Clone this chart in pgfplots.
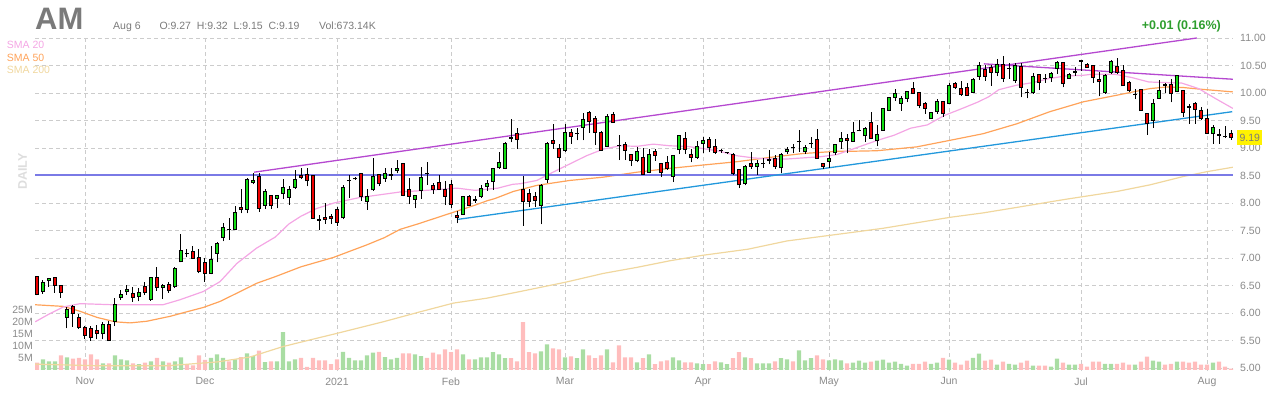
\documentclass[border=0pt]{standalone}
\usepackage{fontspec}
\setmainfont{Liberation Sans}
\usepackage{pgfplots}
\usepackage{pgfplotstable}
\pgfplotsset{compat=1.18}
\definecolor{gridgray}{HTML}{CCCCCC}
\definecolor{lblgray}{HTML}{8A8A8A}
\definecolor{hdrgray}{HTML}{7A7A7A}
\definecolor{upfill}{HTML}{11DD11}
\definecolor{dnfill}{HTML}{EE0000}
\definecolor{volup}{HTML}{A9DDA3}
\definecolor{voldn}{HTML}{FFBDBD}
\definecolor{smaA}{HTML}{F4A6E4}
\definecolor{smaB}{HTML}{FFA35A}
\definecolor{smaC}{HTML}{F0D79E}
\definecolor{purp}{HTML}{B548D0}
\definecolor{tlblue}{HTML}{2298DC}
\definecolor{levelblue}{RGB}{122,122,230}
\definecolor{chgreen}{HTML}{2E9E2E}
\definecolor{dailygray}{HTML}{DDDDDD}

\pgfplotstableread{
i o h l c
0 6.66 6.68 6.32 6.34
1 6.39 6.60 6.35 6.55
2 6.59 6.63 6.48 6.62
3 6.64 6.65 6.37 6.50
4 6.50 6.50 6.28 6.37
5 5.92 6.10 5.72 6.06
6 6.11 6.15 5.75 5.99
7 5.92 5.98 5.71 5.74
8 5.73 5.76 5.53 5.60
9 5.72 5.76 5.50 5.56
10 5.69 5.79 5.52 5.63
11 5.62 5.83 5.52 5.80
12 5.80 5.85 5.49 5.50
13 5.85 6.27 5.76 6.15
14 6.28 6.42 6.24 6.34
15 6.39 6.51 6.33 6.42
16 6.36 6.48 6.20 6.28
17 6.30 6.45 6.21 6.37
18 6.48 6.57 6.33 6.37
19 6.25 6.66 6.22 6.64
20 6.65 6.84 6.40 6.46
21 6.46 6.52 6.26 6.50
22 6.52 6.57 6.37 6.40
23 6.48 6.84 6.45 6.81
24 6.93 7.44 6.92 7.13
25 7.08 7.17 7.01 7.09
26 7.11 7.22 6.98 6.99
27 7.00 7.17 6.72 6.75
28 6.91 7.00 6.57 6.72
29 6.72 7.22 6.70 6.97
30 7.09 7.29 6.92 7.27
31 7.37 7.64 7.30 7.56
32 7.51 7.72 7.33 7.52
33 7.51 7.95 7.50 7.83
34 7.92 8.26 7.81 7.89
35 7.89 8.46 7.81 8.42
36 8.37 8.55 8.34 8.40
37 8.49 8.55 7.84 7.90
38 7.96 8.25 7.89 8.21
39 8.13 8.14 7.89 7.96
40 8.08 8.15 7.90 8.14
41 8.17 8.44 8.08 8.28
42 8.10 8.30 7.97 8.25
43 8.29 8.60 8.26 8.43
44 8.50 8.63 8.43 8.46
45 8.51 8.64 8.30 8.40
46 8.50 8.50 7.71 7.72
47 7.70 7.79 7.50 7.69
48 7.74 8.00 7.62 7.70
49 7.76 7.80 7.62 7.72
50 7.89 7.93 7.59 7.65
51 7.73 8.33 7.70 8.29
52 8.40 8.50 8.09 8.41
53 8.44 8.48 8.42 8.45
54 8.54 8.55 8.04 8.11
55 8.03 8.26 7.88 8.12
56 8.24 8.81 8.22 8.48
57 8.52 8.53 8.30 8.36
58 8.45 8.64 8.39 8.54
59 8.50 8.63 8.42 8.51
60 8.59 8.78 8.54 8.63
61 8.72 8.73 8.12 8.14
62 8.25 8.46 7.98 8.12
63 8.07 8.15 7.90 8.14
64 8.23 8.66 8.08 8.46
65 8.53 8.75 8.33 8.54
66 8.32 8.36 8.17 8.25
67 8.37 8.51 8.24 8.25
68 8.24 8.40 7.96 8.12
69 8.34 8.42 7.91 7.97
70 7.78 7.86 7.63 7.73
71 7.79 8.13 7.78 8.12
72 8.12 8.14 7.94 7.96
73 8.05 8.12 8.00 8.06
74 8.12 8.33 8.09 8.27
75 8.30 8.42 8.22 8.35
76 8.39 8.63 8.24 8.62
77 8.64 8.93 8.62 8.73
78 8.63 9.11 8.61 9.08
79 9.18 9.52 9.10 9.19
80 9.26 9.37 8.98 9.15
81 8.24 8.49 7.59 8.02
82 8.18 8.25 7.93 8.03
83 8.11 8.20 7.93 8.05
84 7.95 8.35 7.61 8.31
85 8.43 9.11 8.37 9.08
86 9.14 9.44 8.99 9.08
87 8.99 9.07 8.57 8.83
88 8.95 9.44 8.93 9.28
89 9.28 9.35 9.08 9.21
90 9.26 9.37 9.14 9.27
91 9.37 9.63 9.14 9.51
92 9.64 9.68 9.28 9.48
93 9.53 9.58 9.05 9.28
94 9.29 9.31 8.96 8.96
95 9.03 9.61 9.02 9.57
96 9.61 9.65 9.46 9.46
97 9.04 9.23 8.78 9.05
98 9.07 9.10 8.78 8.96
99 8.89 8.89 8.67 8.77
100 8.77 9.01 8.74 8.94
101 8.82 9.00 8.52 8.52
102 8.56 8.99 8.54 8.89
103 8.94 8.99 8.77 8.86
104 8.71 8.71 8.47 8.56
105 8.74 8.86 8.60 8.62
106 8.49 8.87 8.38 8.87
107 8.97 9.23 8.89 9.23
108 9.18 9.29 8.89 8.97
109 8.89 8.98 8.74 8.83
110 8.83 9.13 8.80 9.03
111 9.08 9.20 8.91 9.13
112 9.16 9.20 8.92 9.01
113 9.03 9.16 8.89 8.92
114 8.95 8.99 8.91 8.96
115 8.92 8.93 8.89 8.92
116 8.88 8.91 8.50 8.54
117 8.60 8.60 8.27 8.33
118 8.35 8.69 8.32 8.67
119 8.72 8.93 8.62 8.67
120 8.66 8.78 8.51 8.72
121 8.71 8.81 8.64 8.72
122 8.78 8.96 8.70 8.79
123 8.81 8.88 8.62 8.66
124 8.64 8.90 8.54 8.88
125 8.93 9.01 8.89 8.97
126 9.00 9.08 8.90 9.01
127 9.11 9.32 8.93 9.12
128 8.93 9.05 8.89 9.00
129 9.08 9.20 9.00 9.09
130 9.15 9.35 8.80 8.81
131 8.72 8.73 8.61 8.66
132 8.75 8.93 8.64 8.80
133 8.91 9.06 8.88 9.06
134 9.11 9.29 8.99 9.18
135 9.18 9.25 8.90 9.14
136 9.12 9.47 9.11 9.29
137 9.31 9.50 9.30 9.32
138 9.22 9.39 9.11 9.35
139 9.47 9.66 9.17 9.18
140 9.14 9.41 9.03 9.24
141 9.32 9.71 9.32 9.71
142 9.69 9.92 9.68 9.92
143 9.92 10.07 9.85 9.99
144 9.81 9.95 9.68 9.90
145 9.90 10.04 9.83 10.02
146 10.08 10.20 10.02 9.99
147 10.01 10.02 9.72 9.77
148 9.80 9.83 9.62 9.72
149 9.53 9.66 9.53 9.65
150 9.66 9.89 9.62 9.85
151 9.85 9.86 9.57 9.62
152 9.81 10.19 9.80 10.14
153 10.18 10.20 10.07 10.10
154 10.08 10.22 9.95 9.97
155 10.10 10.19 9.95 9.96
156 10.01 10.28 10.01 10.25
157 10.30 10.56 10.24 10.50
158 10.42 10.51 10.22 10.30
159 10.46 10.51 10.13 10.38
160 10.37 10.62 10.30 10.51
161 10.52 10.68 10.20 10.26
162 10.44 10.54 10.26 10.45
163 10.22 10.54 10.19 10.50
164 10.48 10.54 9.92 10.10
165 10.00 10.07 9.90 10.01
166 10.00 10.36 9.99 10.30
167 10.33 10.34 10.06 10.19
168 10.26 10.34 10.19 10.27
169 10.28 10.38 10.20 10.35
170 10.44 10.58 10.35 10.55
171 10.55 10.56 10.10 10.17
172 10.26 10.37 10.25 10.34
173 10.38 10.48 10.31 10.39
174 10.58 10.58 10.40 10.59
175 10.52 10.55 10.46 10.46
176 10.50 10.50 10.19 10.28
177 10.25 10.38 9.94 10.20
178 10.00 10.34 9.99 10.31
179 10.38 10.60 10.35 10.57
180 10.48 10.64 10.35 10.38
181 10.40 10.50 10.13 10.13
182 10.19 10.22 10.02 10.04
183 9.97 10.08 9.89 9.98
184 10.07 10.08 9.68 9.68
185 9.62 9.62 9.24 9.44
186 9.50 9.89 9.37 9.81
187 9.90 10.23 9.89 10.05
188 10.14 10.19 10.00 10.15
189 10.16 10.26 9.83 9.99
190 10.02 10.32 10.01 10.32
191 10.04 10.04 9.56 9.65
192 9.74 9.80 9.44 9.75
193 9.81 9.83 9.44 9.70
194 9.69 9.74 9.50 9.53
195 9.53 9.71 9.25 9.27
196 9.26 9.42 9.08 9.37
197 9.23 9.35 9.08 9.24
198 9.20 9.40 9.18 9.21
199 9.27 9.32 9.15 9.19
}\ohlc

\pgfplotstableread{
i v g
0 3.1 0
1 4.4 1
2 3.6 1
3 3.6 1
4 6.1 0
5 5.3 1
6 4.7 0
7 5.0 0
8 4.4 0
9 6.5 0
10 4.4 0
11 2.8 1
12 2.8 0
13 6.1 1
14 4.4 1
15 4.0 1
16 2.8 0
17 2.4 1
18 3.1 0
19 3.6 1
20 5.0 0
21 3.6 1
22 3.1 0
23 3.6 1
24 5.3 1
25 2.4 0
26 1.9 0
27 6.1 0
28 4.2 0
29 5.0 1
30 6.5 1
31 5.0 1
32 3.6 0
33 4.4 1
34 5.4 0
35 6.9 1
36 5.8 1
37 8.1 0
38 3.3 1
39 3.6 0
40 3.6 1
41 15.8 1
42 3.6 1
43 4.4 1
44 5.0 0
45 1.3 0
46 5.0 0
47 4.0 0
48 4.0 0
49 2.4 0
50 4.4 0
51 7.5 1
52 5.0 1
53 4.0 1
54 4.0 1
55 6.1 1
56 7.2 1
57 7.5 0
58 5.4 1
59 4.4 1
60 5.0 1
61 6.9 0
62 6.9 0
63 6.5 1
64 5.8 1
65 5.0 0
66 7.2 0
67 6.5 0
68 8.6 0
69 7.4 0
70 8.6 0
71 6.5 1
72 4.4 0
73 4.4 1
74 5.3 1
75 5.3 1
76 7.4 1
77 6.5 1
78 4.9 1
79 4.9 0
80 3.6 0
81 19.9 0
82 7.4 0
83 6.9 0
84 7.8 1
85 10.7 1
86 9.0 0
87 8.6 0
88 5.3 1
89 5.7 0
90 4.9 1
91 8.6 1
92 6.1 0
93 4.9 0
94 6.1 0
95 8.6 1
96 3.2 0
97 10.3 0
98 5.3 0
99 5.3 0
100 3.2 1
101 4.9 0
102 6.5 1
103 2.4 0
104 3.6 0
105 4.0 0
106 5.3 1
107 4.0 1
108 3.2 0
109 3.2 0
110 2.8 1
111 2.4 1
112 2.4 0
113 3.6 0
114 3.2 1
115 2.4 1
116 4.9 0
117 7.4 0
118 5.3 1
119 4.9 0
120 2.8 1
121 2.8 1
122 2.8 1
123 3.6 0
124 4.9 1
125 4.4 1
126 3.6 0
127 8.2 1
128 4.0 1
129 4.9 1
130 6.1 0
131 4.4 0
132 4.0 1
133 4.4 1
134 4.0 1
135 2.8 0
136 3.1 1
137 3.9 1
138 3.1 1
139 3.5 0
140 3.9 1
141 4.3 1
142 3.1 1
143 3.5 1
144 2.6 1
145 1.8 1
146 2.6 0
147 2.6 0
148 3.5 0
149 2.6 1
150 3.1 1
151 5.1 0
152 4.3 1
153 3.1 0
154 2.2 0
155 3.9 0
156 5.1 1
157 6.8 1
158 3.9 0
159 4.3 0
160 2.2 1
161 3.5 0
162 2.6 1
163 2.2 1
164 3.1 0
165 3.9 0
166 1.8 1
167 1.8 0
168 1.8 0
169 1.4 1
170 4.7 1
171 3.1 0
172 2.2 1
173 2.2 1
174 2.6 0
175 1.4 0
176 3.5 0
177 3.5 0
178 2.6 1
179 2.6 1
180 2.6 0
181 3.1 0
182 2.2 0
183 2.2 1
184 3.5 0
185 5.6 0
186 3.9 1
187 3.5 1
188 2.2 0
189 2.6 0
190 3.5 1
191 3.5 0
192 3.1 0
193 3.5 0
194 2.2 0
195 2.2 0
196 3.1 1
197 3.5 0
198 1.4 0
199 0.6 0
}\vol

\begin{document}
\begin{tikzpicture}
\path[use as bounding box] (0,0) rectangle (1280bp,400bp);
\pgfplotsset{base/.style={at={(35bp,29bp)}, anchor=south west, scale only axis,
  width=1198bp, height=334bp, xmin=-0.333, xmax=199.333,
  axis line style={draw=none}, major tick length=0pt,
  tick label style={font=\fontsize{10.5bp}{12bp}\selectfont, text=lblgray},
  /pgf/number format/assume math mode=true}}

% axis 1: grid and labels
\begin{axis}[base, ymin=4.9455, ymax=11.018,
  xtick={8,28,50,69,88,111,132,152,174,195},
  xticklabels={Nov,Dec,2021,Feb,Mar,Apr,May,Jun,Jul,Aug},
  ytick={5,5.5,6,6.5,7,7.5,8,8.5,9,9.5,10,10.5,11},
  yticklabel pos=right,
  y tick label style={/pgf/number format/fixed, /pgf/number format/fixed zerofill, /pgf/number format/precision=2},
  yticklabel style={anchor=west, inner sep=0pt, xshift=7bp},
  xticklabel style={anchor=north, inner sep=0pt, yshift=-6.5bp},
  grid=major, major grid style={draw=gridgray, dash pattern=on 4bp off 3bp, line width=0.8bp}]
\addplot[draw=none, forget plot] coordinates {(0,5)};
\end{axis}

% axis 2: volume
\begin{axis}[base, ymin=-0.42, ymax=138.75, xtick=\empty,
  ytick={5,10,15,20,25}, yticklabels={5M,10M,15M,20M,25M},
  yticklabel pos=left, yticklabel style={anchor=east, inner sep=0pt, xshift=-2bp}]
\addplot[ybar, bar width=4.4bp, bar shift=0pt, fill=volup, draw=none,
  restrict expr to domain={\thisrow{g}}{0.5:1.5}] table[x=i, y=v] {\vol};
\addplot[ybar, bar width=4.4bp, bar shift=0pt, fill=voldn, draw=none,
  restrict expr to domain={\thisrow{g}}{-0.5:0.5}] table[x=i, y=v] {\vol};
\end{axis}

% axis 3: price content
\begin{axis}[base, ymin=4.9455, ymax=11.018, xtick=\empty, ytick=\empty, clip mode=individual]
\addplot[smaC, line width=1.2bp, line join=round] coordinates {
(-0.3,5.07) (10.5,5.04) (21.6,5.04) (30,5.11) (35.5,5.20) (41,5.39) (46.6,5.54) (50,5.63) (57.7,5.84) (63.8,6.02) (69.4,6.18) (75,6.27) (80.5,6.39) (88.1,6.56) (94.4,6.72) (100,6.83) (105.5,6.95) (111,7.05) (118.5,7.16) (125,7.31) (135.5,7.46) (141,7.54) (146.6,7.64) (152.2,7.74) (157.7,7.82) (163.3,7.92) (168.8,8.02) (171.6,8.07) (180,8.21) (185.5,8.33) (191,8.48) (195,8.57) (199.3,8.65)};
\addplot[smaB, line width=1.2bp, line join=round] coordinates {
(-0.3,6.15) (4.4,6.12) (7.2,6.03) (10,5.92) (13,5.84) (15.5,5.82) (18.3,5.85) (22.2,5.94) (24.9,6.02) (27.7,6.10) (30.5,6.21) (33.3,6.36) (36.6,6.54) (39.7,6.66) (44,6.84) (49.4,7.01) (55,7.24) (57.9,7.37) (60.5,7.52) (63.5,7.62) (67.4,7.76) (70.2,7.86) (73,7.96) (75,8.04) (76.3,8.08) (79.4,8.21) (83.3,8.32) (88.8,8.41) (94.4,8.47) (100,8.56) (105.5,8.63) (111,8.69) (116.6,8.75) (122.2,8.83) (127.7,8.90) (133.3,8.94) (135.5,8.94) (140,8.95) (146.6,9.02) (152.2,9.14) (157.7,9.26) (163.3,9.44) (168.8,9.66) (174.4,9.84) (180,9.96) (182.7,10.02) (185.5,10.08) (188.3,10.11) (191,10.10) (193.8,10.07) (199.3,10.02)};
\addplot[smaA, line width=1.2bp, line join=round] coordinates {
(-0.3,5.84) (2,5.98) (4.4,6.11) (7.2,6.17) (12.7,6.15) (21,6.15) (23.8,6.24) (27.7,6.39) (30.5,6.57) (33.3,6.90) (36.6,7.18) (39.7,7.38) (42,7.62) (44,7.76) (46.6,7.90) (49.5,8.0) (53.8,8.10) (55.2,8.12) (60.5,8.20) (66.3,8.24) (70,8.27) (73,8.23) (76.8,8.27) (79.3,8.34) (80.5,8.35) (83.3,8.41) (86,8.56) (88.8,8.71) (91.6,8.86) (94.4,8.98) (97.2,9.04) (100,9.03) (102.7,9.07) (105.5,9.04) (108.3,9.03) (111,8.99) (113.8,8.94) (116.6,8.86) (119.4,8.82) (122.2,8.80) (125,8.80) (127.7,8.82) (130.5,8.84) (133.3,8.88) (136.2,8.99) (140.1,9.14) (142.8,9.23) (145.6,9.36) (148.4,9.42) (151.2,9.59) (154,9.71) (156.7,9.83) (158.6,9.93) (160.3,10.06) (163.2,10.14) (166,10.19) (168.6,10.26) (171.4,10.31) (174.2,10.32) (175.8,10.34) (179.7,10.34) (182.5,10.28) (185.3,10.20) (188,10.19) (190.8,10.18) (193.6,10.08) (196.4,9.90) (199.3,9.72)};
\addplot[draw=levelblue, line width=2bp, solid] coordinates {(-0.333,8.5) (199.333,8.5)};
\addplot[purp, line width=1.3bp] coordinates {(36.2,8.56) (193.3,11.0)};
\addplot[purp, line width=1.3bp] coordinates {(157.8,10.53) (199.3,10.25)};
\addplot[tlblue, line width=1.3bp] coordinates {(70,7.70) (199.2,9.66)};
% wicks
\addplot[draw=none, mark=none, error bars/.cd, y dir=plus, y explicit, error mark=none,
  error bar style={draw=black, line width=1bp}]
  table[x=i, y=l, y error plus expr={\thisrow{h}-\thisrow{l}}] {\ohlc};
% body outlines
\addplot[draw=none, mark=none, error bars/.cd, y dir=plus, y explicit, error mark=none,
  error bar style={draw=black, line width=4.6bp}]
  table[x=i, y expr={min(\thisrow{o},\thisrow{c})-0.0091}, y error plus expr={abs(\thisrow{c}-\thisrow{o})+0.0182}] {\ohlc};
% up fills
\addplot[draw=none, mark=none, restrict expr to domain={\thisrow{c}-\thisrow{o}}{0:100},
  error bars/.cd, y dir=plus, y explicit, error mark=none,
  error bar style={draw=upfill, line width=2.6bp}]
  table[x=i, y expr={\thisrow{o}+0.0091}, y error plus expr={max(\thisrow{c}-\thisrow{o}-0.0182,0)}] {\ohlc};
% down fills
\addplot[draw=none, mark=none, restrict expr to domain={\thisrow{o}-\thisrow{c}}{0.0001:100},
  error bars/.cd, y dir=plus, y explicit, error mark=none,
  error bar style={draw=dnfill, line width=2.6bp}]
  table[x=i, y expr={\thisrow{c}+0.0091}, y error plus expr={max(\thisrow{o}-\thisrow{c}-0.0182,0)}] {\ohlc};
\node[anchor=west, fill=yellow, text=hdrgray, inner xsep=2.3bp, inner ysep=3.6bp, text height=7.6bp, text depth=0bp,
  font=\fontsize{10.5bp}{12bp}\selectfont, xshift=4bp] at (axis cs:199.333,9.19) {9.19};
\end{axis}

% header texts
\node[anchor=base west, inner sep=0pt, text=hdrgray, font=\fontsize{31bp}{31bp}\selectfont\bfseries] at (35bp,370bp) {AM};
\node[anchor=base west, inner sep=0pt, text=hdrgray, font=\fontsize{10.5bp}{12bp}\selectfont] at (113bp,370.5bp) {Aug 6};
\node[anchor=base west, inner sep=0pt, text=hdrgray, font=\fontsize{10.5bp}{12bp}\selectfont] at (159.3bp,370.5bp) {O:9.27};
\node[anchor=base west, inner sep=0pt, text=hdrgray, font=\fontsize{10.5bp}{12bp}\selectfont] at (196.7bp,370.5bp) {H:9.32};
\node[anchor=base west, inner sep=0pt, text=hdrgray, font=\fontsize{10.5bp}{12bp}\selectfont] at (233.3bp,370.5bp) {L:9.15};
\node[anchor=base west, inner sep=0pt, text=hdrgray, font=\fontsize{10.5bp}{12bp}\selectfont] at (268.3bp,370.5bp) {C:9.19};
\node[anchor=base west, inner sep=0pt, text=hdrgray, font=\fontsize{10.5bp}{12bp}\selectfont] at (319bp,370.5bp) {Vol:673.14K};
\node[anchor=base west, inner sep=0pt, text=smaA, font=\fontsize{10.5bp}{12bp}\selectfont] at (6.7bp,351bp) {SMA 20};
\node[anchor=base west, inner sep=0pt, text=smaB, font=\fontsize{10.5bp}{12bp}\selectfont] at (6.7bp,338.3bp) {SMA 50};
\node[anchor=base west, inner sep=0pt, text=smaC, font=\fontsize{10.5bp}{12bp}\selectfont] at (6.7bp,326bp) {SMA 200};
\node[rotate=90, inner sep=0pt, text=dailygray, font=\fontsize{12.5bp}{14bp}\selectfont\bfseries] at (22.5bp,228.5bp) {DAILY};
\node[anchor=base east, inner sep=0pt, text=chgreen, font=\fontsize{12.5bp}{14bp}\selectfont\bfseries] at (1221bp,370.5bp) {+0.01 (0.16\%)};
\end{tikzpicture}
\end{document}
